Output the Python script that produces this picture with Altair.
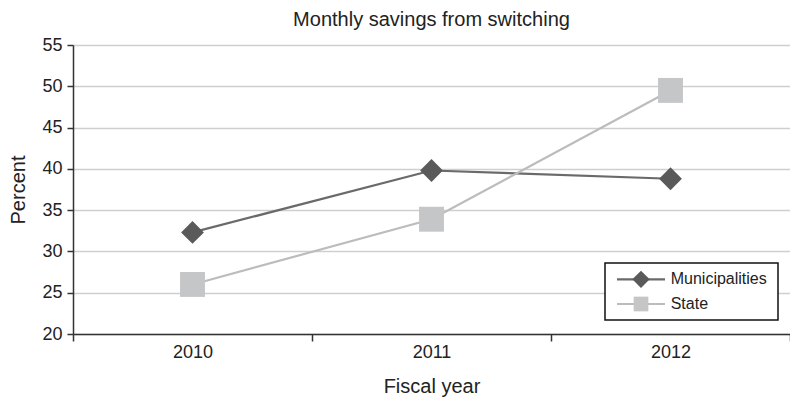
import altair as alt
import pandas as pd

# Savings by fiscal year, in percent
years = ["2010", "2011", "2012"]
municipalities = [32.3, 39.8, 38.8]
state = [26.0, 33.9, 49.5]
series_names = ["Municipalities", "State"]
series_shapes = ["diamond", "square"]

line_colors = ["#6a6a6a", "#bcbcbc"]
marker_colors = ["#5a5a5a", "#c5c6c8"]

rows = []
for yr, m, s in zip(years, municipalities, state):
    rows.append({"year": yr, "series": "Municipalities", "value": m})
    rows.append({"year": yr, "series": "State", "value": s})
df = pd.DataFrame(rows)

FONT = "Liberation Sans"
INK = "#222222"

x_enc = alt.X(
    "year:N",
    title="Fiscal year",
    sort=years,
    scale=alt.Scale(type="band", paddingInner=0, paddingOuter=0),
    axis=alt.Axis(
        labelAngle=0,
        tickBand="extent",
        tickSize=7,
        labelPadding=2,
        titlePadding=15,
        grid=False,
    ),
)
y_enc = alt.Y(
    "value:Q",
    title="Percent",
    scale=alt.Scale(domain=[20, 55], nice=False, zero=False),
    axis=alt.Axis(
        values=[20, 25, 30, 35, 40, 45, 50, 55],
        tickSize=6,
        labelPadding=5,
        titlePadding=13,
        grid=True,
        gridColor="#cfcfcf",
        gridWidth=1.5,
    ),
)

base = alt.Chart(df)

lines = base.mark_line(strokeWidth=2.2).encode(
    x=x_enc,
    y=y_enc,
    color=alt.Color(
        "series:N",
        scale=alt.Scale(domain=series_names, range=line_colors),
        legend=None,
    ),
)

muni_points = (
    base.transform_filter(alt.datum.series == "Municipalities")
    .mark_point(shape="diamond", filled=True, size=520, color=marker_colors[0], opacity=1)
    .encode(x=x_enc, y=y_enc)
)

state_points = (
    base.transform_filter(alt.datum.series == "State")
    .mark_point(shape="square", filled=True, size=620, color=marker_colors[1], opacity=1)
    .encode(x=x_enc, y=y_enc)
)

# Boxed key in the lower right of the plot area: line + marker + label per series
key_box = (
    alt.Chart(pd.DataFrame({"series": series_names[:1]}))
    .mark_rect(fill="white", stroke="#111111", strokeWidth=1.5)
    .encode(x=alt.value(532), x2=alt.value(705), y=alt.value(218), y2=alt.value(275))
)

key_parts = [key_box]
key_marker_sizes = [300, 216]
for i, name in enumerate(series_names):
    row_y = 234.3 + i * 24.7
    row_data = pd.DataFrame({"series": [name]})
    key_parts.append(
        alt.Chart(row_data)
        .mark_rule(color=line_colors[i], strokeWidth=2.2)
        .encode(x=alt.value(544), x2=alt.value(592), y=alt.value(row_y))
    )
    key_parts.append(
        alt.Chart(row_data)
        .mark_point(shape=series_shapes[i], filled=True, size=key_marker_sizes[i],
                    color=marker_colors[i], opacity=1)
        .encode(x=alt.value(568), y=alt.value(row_y))
    )
    key_parts.append(
        alt.Chart(row_data)
        .mark_text(align="left", baseline="middle", font=FONT, fontSize=16, color=INK)
        .encode(x=alt.value(597.7), y=alt.value(row_y), text="series:N")
    )

chart = (
    alt.layer(lines, muni_points, state_points, *key_parts)
    .properties(
        width=717,
        height=289,
        title=alt.TitleParams(
            "Monthly savings from switching",
            anchor="middle",
            frame="group",
            baseline="alphabetic",
            offset=-10,
        ),
        autosize=alt.AutoSizeParams(type="none"),
        padding={"left": 73, "top": 45, "right": 0, "bottom": 68},
    )
    .configure_view(stroke="transparent")
    .configure_axis(
        labelFont=FONT,
        titleFont=FONT,
        labelFontSize=18,
        titleFontSize=20,
        titleFontWeight="normal",
        labelColor=INK,
        titleColor=INK,
        domainColor="#333333",
        domainWidth=1.5,
        tickColor="#333333",
        tickWidth=1.5,
    )
    .configure_title(font=FONT, fontSize=20, fontWeight="normal", color=INK)
)

chart.save("out.html", embed_options={"renderer": "svg", "actions": False})
